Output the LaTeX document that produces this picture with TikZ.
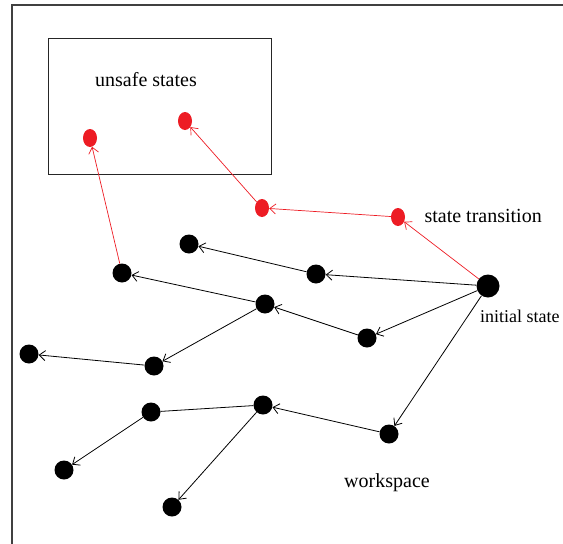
\documentclass[tikz,border=0pt]{standalone}
\usepackage{fontspec}
\setmainfont{Liberation Serif}
\usetikzlibrary{positioning,arrows.meta,shapes.geometric}
\definecolor{paintred}{RGB}{237,28,36}

\begin{document}
\begin{tikzpicture}[x=1pt,y=-1pt,>={Straight Barb[length=6pt,width=10pt]},
  every node/.style={font=\fontsize{20}{22}\selectfont},
  state/.style={circle,fill=black,inner sep=0pt,minimum size=19pt},
  unsafe/.style={ellipse,fill=paintred,inner sep=0pt,minimum width=14pt,minimum height=18pt},
  trans/.style={->,draw=paintred,line width=0.7pt},
  move/.style={->,line width=0.8pt}]
  \useasboundingbox (0,0) rectangle (563,544);
  \draw[line width=1.5pt,black!75] (12,544) -- (12,5) -- (563,5);
  \draw[line width=1pt,black!85] (48,38) rectangle (271,174);
  \node (unsafelbl) at (146,80) {unsafe states};
  % unsafe states
  \node[unsafe] (ua) at (90,138) {};
  \node[unsafe] (ub) at (185,121) {};
  \node[unsafe] (uc) at (262,208) {};
  \node[unsafe] (ud) at (398,217) {};
  % safe states
  \node[state,minimum size=23pt] (init) at (488,286) {};
  \node[state] (sa) at (316,274) {};
  \node[state] (sb) at (189,244) {};
  \node[state] (sc) at (122,273) {};
  \node[state] (sd) at (265,304) {};
  \node[state] (se) at (367,338) {};
  \node[state] (sf) at (154,366) {};
  \node[state] (sg) at (29,354) {};
  \node[state] (sh) at (389,434) {};
  \node[state] (si) at (263,405) {};
  \node[state] (sj) at (151,412) {};
  \node[state] (sk) at (64,470) {};
  \node[state] (sl) at (172,507) {};
  \draw[trans] (init) -- (ud);
  \draw[trans] (ud) -- (uc);
  \draw[trans] (uc) -- (ub);
  \draw[trans] (sc) -- (ua);
  \draw[move] (init) -- (sa);
  \draw[move] (sa) -- (sb);
  \draw[move] (init) -- (se);
  \draw[move] (se) -- (sd);
  \draw[move] (sd) -- (sc);
  \draw[move] (sd) -- (sf);
  \draw[move] (sf) -- (sg);
  \draw[move] (init) -- (sh);
  \draw[move] (sh) -- (si);
  \draw[line width=0.8pt] (sj) -- (si);
  \draw[move] (sj) -- (sk);
  \draw[move] (si) -- (sl);
  \node[anchor=west] (translbl) at (421,216) {state transition};
  \node[anchor=west,inner sep=0pt,font=\fontsize{18}{20}\selectfont] (initlbl) at (480,316) {initial state};
  \node (wslbl) at (387,483) {workspace};
\end{tikzpicture}
\end{document}
